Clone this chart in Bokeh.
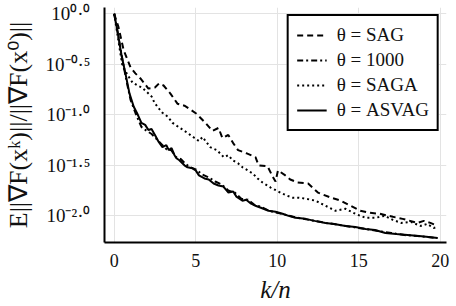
from bokeh.plotting import figure
from bokeh.models import Range1d, FixedTicker, Legend, LegendItem
from bokeh.embed import file_html
from bokeh.resources import INLINE

# ---- data (log10 of the normalised gradient norm vs k/n) ----
sag_x = [0, 0.26, 0.58, 1.0, 1.3, 1.61, 2.1, 2.5, 2.75, 3.03,
         3.45, 3.88, 4.31, 4.7, 5.05, 5.6, 6.03, 6.4, 6.64, 7.0,
         7.3, 7.6, 8.1, 8.67, 8.86, 9.41, 9.72, 9.9, 10.05, 10.5,
         10.8, 11.25, 11.9, 12.5, 13.3, 13.9, 14.5, 15.1, 15.7, 16.3,
         17.1, 17.7, 18.6, 19.0, 19.4, 19.84]
sag_log10 = [0, -0.13, -0.36, -0.53, -0.59, -0.64, -0.74, -0.73, -0.69, -0.71,
             -0.79, -0.89, -0.91, -0.95, -0.99, -1.08, -1.16, -1.13, -1.23, -1.20,
             -1.28, -1.35, -1.38, -1.42, -1.50, -1.51, -1.61, -1.66, -1.55, -1.60,
             -1.64, -1.67, -1.68, -1.77, -1.82, -1.85, -1.90, -1.95, -1.97, -1.98,
             -2.01, -2.03, -2.07, -2.05, -2.07, -2.10]

t1000_x = [0, 0.25, 0.5, 0.75, 1.0, 1.3, 1.67, 2.0, 2.3, 2.6,
           2.9, 3.2, 3.5, 3.8, 4.1, 4.4, 4.7, 5.0, 5.4, 5.8,
           6.2, 6.6, 7.0, 7.4, 7.8, 8.2, 8.6, 9.0, 9.5, 10.0,
           10.5, 11.0, 11.6, 12.3, 13.0, 13.8, 14.6, 15.4, 16.2, 17.0,
           17.8, 18.6, 19.2, 19.84]
t1000_log10 = [0, -0.22, -0.45, -0.66, -0.85, -0.98, -1.12, -1.16, -1.19, -1.24,
               -1.29, -1.34, -1.35, -1.42, -1.44, -1.49, -1.52, -1.54, -1.59, -1.62,
               -1.66, -1.69, -1.75, -1.77, -1.83, -1.84, -1.89, -1.91, -1.95, -1.97,
               -1.99, -2.01, -2.03, -2.05, -2.07, -2.09, -2.11, -2.13, -2.15, -2.17,
               -2.19, -2.20, -2.21, -2.22]

saga_x = [0, 0.33, 0.5, 0.8, 1.12, 1.43, 1.7, 2.04, 2.3, 2.47,
          2.7, 2.96, 3.3, 3.58, 3.85, 4.13, 4.5, 4.93, 5.2, 5.42,
          5.89, 6.3, 6.73, 7.0, 7.27, 7.6, 7.88, 8.2, 8.49, 8.8,
          9.1, 9.6, 10.2, 10.6, 10.94, 11.35, 11.74, 12.35, 12.96, 13.58,
          14.19, 14.8, 15.42, 16.0, 16.6, 17.1, 17.6, 18.2, 18.8, 19.2,
          19.6, 19.84]
saga_log10 = [0, -0.34, -0.51, -0.6, -0.68, -0.71, -0.73, -0.78, -0.82, -0.88,
              -0.93, -0.98, -1.02, -1.08, -1.11, -1.14, -1.18, -1.23, -1.26, -1.22,
              -1.32, -1.35, -1.42, -1.40, -1.45, -1.48, -1.52, -1.55, -1.58, -1.63,
              -1.67, -1.72, -1.77, -1.80, -1.82, -1.82, -1.83, -1.85, -1.90, -1.95,
              -1.93, -1.98, -2.02, -2.02, -2.00, -2.04, -2.07, -2.06, -2.10, -2.08,
              -2.12, -2.11]

asvag_x = [0, 0.2, 0.45, 0.7, 0.94, 1.2, 1.45, 1.67, 1.9, 2.1,
           2.29, 2.5, 2.7, 2.96, 3.2, 3.35, 3.52, 3.7, 3.82, 4.0,
           4.31, 4.5, 4.8, 5.0, 5.2, 5.54, 5.8, 6.1, 6.4, 6.7,
           7.01, 7.3, 7.5, 7.87, 8.1, 8.4, 8.67, 9.0, 9.47, 9.9,
           10.33, 10.7, 11.12, 11.74, 12.3, 12.96, 13.5, 14.19, 14.8, 15.42,
           16.0, 16.64, 17.3, 18.0, 18.7, 19.3, 19.84]
asvag_log10 = [0, -0.17, -0.41, -0.6, -0.79, -0.92, -1.0, -1.08, -1.1, -1.15,
               -1.14, -1.2, -1.26, -1.32, -1.30, -1.35, -1.33, -1.40, -1.43, -1.45,
               -1.50, -1.52, -1.53, -1.55, -1.6, -1.63, -1.64, -1.68, -1.70, -1.71,
               -1.77, -1.76, -1.81, -1.85, -1.84, -1.88, -1.90, -1.92, -1.95, -1.96,
               -1.98, -2.00, -2.02, -2.03, -2.05, -2.07, -2.08, -2.10, -2.11, -2.13,
               -2.14, -2.17, -2.18, -2.19, -2.20, -2.21, -2.22]

series_labels = ["θ = SAG", "θ = 1000", "θ = SAGA", "θ = ASVAG"]
x_ticks = [0, 5, 10, 15, 20]
y_tick_exps = [0.0, -0.5, -1.0, -1.5, -2.0]
y_tick_labels = ["10⁰·⁰", "10⁻⁰·⁵", "10⁻¹·⁰", "10⁻¹·⁵", "10⁻²·⁰"]

SERIF = "Liberation Serif"
TXT = "#111111"

p = figure(frame_width=342, frame_height=235,
           min_border_left=104, min_border_right=10,
           min_border_top=7, min_border_bottom=64,
           y_axis_type="log",
           x_range=Range1d(-0.595, 20.39),
           y_range=Range1d(10 ** -2.264, 10 ** 0.062),
           output_backend="svg", toolbar_location=None)
p.outline_line_color = None
p.background_fill_color = "white"

# axes
xa = p.xaxis[0]
ya = p.yaxis[0]
xa.ticker = FixedTicker(ticks=x_ticks)
ya.ticker = FixedTicker(ticks=[10 ** e for e in y_tick_exps], minor_ticks=[])
for ax in (xa, ya):
    ax.axis_line_width = 2
    ax.axis_line_color = "black"
    ax.major_tick_line_color = None
    ax.minor_tick_line_color = None
    ax.major_label_text_font = SERIF
    ax.major_label_text_color = TXT
    ax.axis_label_text_font = SERIF
    ax.axis_label_text_color = TXT
xa.major_label_text_font_size = "18px"
xa.major_label_standoff = 5
xa.axis_label = "k/n"
xa.axis_label_text_font_style = "italic"
xa.axis_label_text_font_size = "25px"
xa.axis_label_standoff = 6

ya.major_label_overrides = {10 ** e: t for e, t in zip(y_tick_exps, y_tick_labels)}
ya.major_label_text_font_size = "19px"
ya.major_label_standoff = 8
ya.axis_label = "E||∇F(xᵏ)||/||∇F(x⁰)||"
ya.axis_label_text_font_style = "normal"
ya.axis_label_text_font_size = "26px"
ya.axis_label_standoff = 10

for g in (p.xgrid[0], p.ygrid[0]):
    g.grid_line_color = "#e3e3e3"
    g.grid_line_width = 1

# series
r_sag = p.line(sag_x, [10 ** v for v in sag_log10], line_color="black",
               line_width=2, line_dash="6 4")
r_1000 = p.line(t1000_x, [10 ** v for v in t1000_log10], line_color="black",
                line_width=2, line_dash="6 3 2 3")
r_saga = p.line(saga_x, [10 ** v for v in saga_log10], line_color="black",
                line_width=2, line_dash="2 3")
r_asvag = p.line(asvag_x, [10 ** v for v in asvag_log10], line_color="black",
                 line_width=2)

legend = Legend(items=[LegendItem(label=series_labels[0], renderers=[r_sag]),
                       LegendItem(label=series_labels[1], renderers=[r_1000]),
                       LegendItem(label=series_labels[2], renderers=[r_saga]),
                       LegendItem(label=series_labels[3], renderers=[r_asvag])],
                location="top_right")
legend.border_line_color = "black"
legend.border_line_width = 2
legend.border_line_alpha = 1
legend.background_fill_color = "white"
legend.background_fill_alpha = 1
legend.label_text_font = SERIF
legend.label_text_font_size = "19px"
legend.label_text_color = TXT
legend.glyph_width = 30
legend.glyph_height = 20
legend.label_height = 20
legend.label_standoff = 10
legend.spacing = 3
legend.padding = 8
legend.margin = 7
p.add_layout(legend)

open("out.html", "w").write(file_html(p, INLINE))
